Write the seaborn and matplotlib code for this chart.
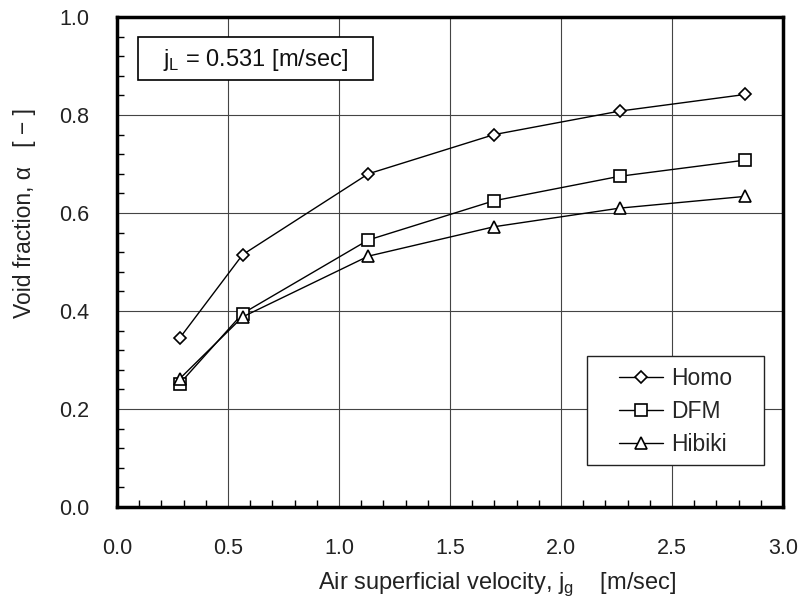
import matplotlib
matplotlib.use("Agg")
import matplotlib.pyplot as plt
import seaborn as sns
import numpy as np
import pandas as pd
from matplotlib.ticker import MultipleLocator
from matplotlib.patches import Rectangle

jg = [0.283, 0.566, 1.132, 1.698, 2.264, 2.830]
homo = [0.345, 0.515, 0.680, 0.760, 0.808, 0.842]
dfm = [0.252, 0.395, 0.545, 0.625, 0.675, 0.708]
hibiki = [0.262, 0.388, 0.512, 0.572, 0.610, 0.634]
series_names = ["Homo", "DFM", "Hibiki"]
x_ticks = [0.0, 0.5, 1.0, 1.5, 2.0, 2.5, 3.0]
y_ticks = [0.0, 0.2, 0.4, 0.6, 0.8, 1.0]

sns.set_theme(style="white")
plt.rcParams["font.family"] = ["Liberation Sans", "DejaVu Sans"]

fig = plt.figure(figsize=(8.01, 6.08), dpi=100)
ax = fig.add_axes([0.146, 0.166, 0.8315, 0.806])

markers = {"Homo": ("D", 6.5), "DFM": ("s", 8.5), "Hibiki": ("^", 9)}
for name, vals in zip(series_names, [homo, dfm, hibiki]):
    m, ms = markers[name]
    sns.lineplot(x=jg, y=vals, ax=ax, color="black", linewidth=1.0,
                 marker=m, markersize=ms, markerfacecolor="white",
                 markeredgecolor="black", markeredgewidth=1.2, label=name)

ax.set_xlim(0, 3.0)
ax.set_ylim(0, 1.0)
ax.set_xticks(x_ticks)
ax.set_yticks(y_ticks)
ax.set_xticklabels([f"{v:.1f}" for v in x_ticks])
ax.set_yticklabels([f"{v:.1f}" for v in y_ticks])
ax.xaxis.set_minor_locator(MultipleLocator(0.1))
ax.yaxis.set_minor_locator(MultipleLocator(0.04))
ax.tick_params(which="both", direction="in", colors="black", labelsize=15.5,
               bottom=True, left=True, labelcolor="#222222")
ax.tick_params(axis="x", which="major", length=0, pad=22)
ax.tick_params(axis="y", which="major", length=0, pad=20)
ax.tick_params(which="minor", length=5, width=1)
ax.grid(True, which="major", color="#444444", linewidth=0.8)
for s in ax.spines.values():
    s.set_color("black")
    s.set_linewidth(2.5)

ax.set_xlabel(r"Air superficial velocity, j$_\mathregular{g}$    [m/sec]",
              fontsize=17, color="#222222")
ax.xaxis.set_label_coords(0.571, -0.13)
ax.set_ylabel("Void fraction, α   [ − ]", fontsize=16.5, color="#222222")
ax.yaxis.set_label_coords(-0.122, 0.60)

# info box
ax.add_patch(Rectangle((0.0315, 0.871), 0.353, 0.088, transform=ax.transAxes,
                       facecolor="white", edgecolor="black", linewidth=1.2,
                       zorder=4))
ax.text(0.208, 0.913, r"j$_\mathregular{L}$ = 0.531 [m/sec]", transform=ax.transAxes,
        ha="center", va="center", fontsize=17, color="#111111", zorder=5)

# legend box
ax.add_patch(Rectangle((0.7057, 0.0857), 0.2658, 0.2223, transform=ax.transAxes,
                       facecolor="white", edgecolor="#222222", linewidth=1.0,
                       zorder=4))
leg = ax.legend(loc="center", bbox_to_anchor=(0.8386, 0.195), fontsize=16.5,
                frameon=False, handlelength=1.9, handletextpad=0.35,
                borderpad=0.2, labelspacing=0.45)
leg.set_zorder(6)

fig.savefig("out.png", dpi=100, facecolor="white")
